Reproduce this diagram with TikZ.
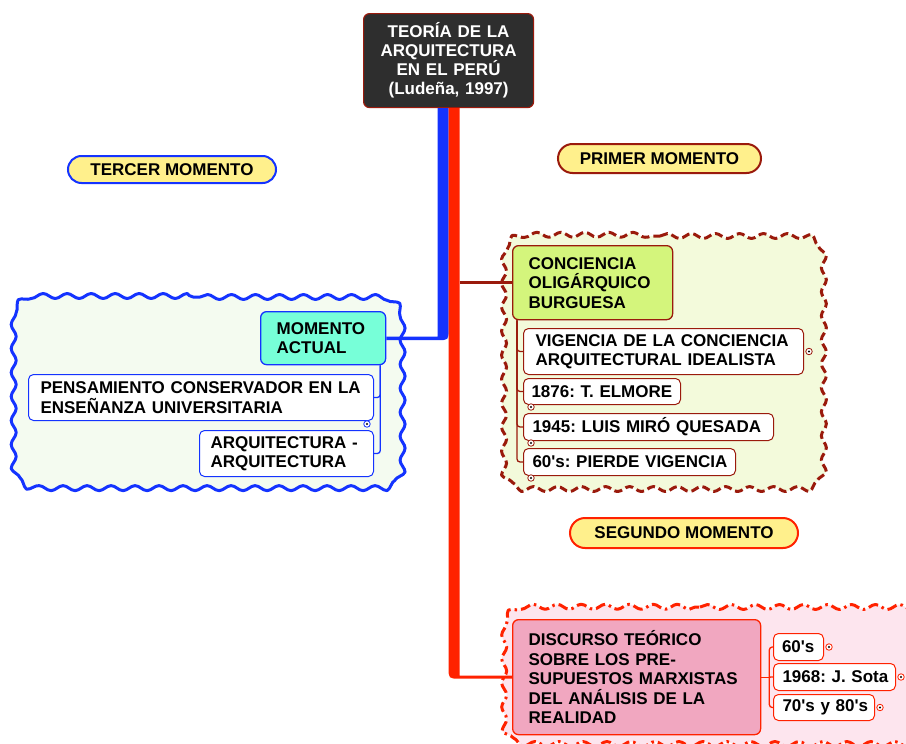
\documentclass[tikz,border=0pt]{standalone}
\usepackage{fontspec}
\setmainfont{Liberation Sans}
\usetikzlibrary{calc,decorations.pathmorphing}

\definecolor{bluec}{HTML}{1433FF}
\definecolor{redc}{HTML}{FF2200}
\definecolor{dkred}{HTML}{9A1A0C}
\definecolor{pillfill}{HTML}{FFF08C}
\definecolor{bluebg}{HTML}{F4FBF0}
\definecolor{limebg}{HTML}{F3FADB}
\definecolor{pinkbg}{HTML}{FDE5EE}
\definecolor{aqua}{HTML}{77FFD8}
\definecolor{lime}{HTML}{D4F57C}
\definecolor{rose}{HTML}{F1A7C0}
\definecolor{titlebg}{HTML}{2E2E2E}

\frenchspacing
\newcommand{\ap}{\textquotesingle}

\tikzset{
  lbl/.style={font=\bfseries\fontsize{17}{19.5}\selectfont},
  topic/.style={lbl, rectangle, rounded corners=6, line width=1.3, anchor=north west, align=left, inner ysep=0},
  sub/.style={lbl, rectangle, rounded corners=5, line width=1, fill=white, anchor=north west, align=left, inner ysep=0},
  pill/.style={lbl, rectangle, line width=2, fill=pillfill, anchor=north west, inner sep=0},
  dotmark/.style={circle, draw, fill=white, line width=0.8, minimum size=6.5, inner sep=0,
    path picture={\fill[black] (path picture bounding box.center) circle (1.2);}},
  conn/.style={line width=1.3, rounded corners=3},
  cloud/.style={line width=3, line join=round, decorate, decoration={snake, segment length=24, amplitude=2.5}},
}

\begin{document}
\begin{tikzpicture}[x=1pt, y=-1pt]
\useasboundingbox (0,0) rectangle (906,744);

% grouping clouds behind the topics (rounded outlines made wavy)
\begin{scope}
  \clip (0,0) rectangle (906,744);
  \draw[cloud, draw=bluec, fill=bluebg]
    (200,297) -- (374,297) .. controls (386,297) and (396,307) .. (396,319) -- (396,467)
    .. controls (396,479) and (386,489) .. (374,489) -- (28,489) .. controls (16,489) and (6,479) .. (6,467)
    -- (6,319) .. controls (6,307) and (16,297) .. (28,297) -- cycle;
  \draw[cloud, draw=dkred, fill=limebg, dash pattern=on 8 off 4]
    (660,236) -- (798,236) .. controls (809,236) and (818,245) .. (818,256) -- (818,470)
    .. controls (818,481) and (809,490) .. (798,490) -- (517,490) .. controls (506,490) and (497,481) .. (497,470)
    -- (497,256) .. controls (497,245) and (506,236) .. (517,236) -- cycle;
  \draw[cloud, draw=redc, fill=pinkbg, dash pattern=on 10 off 4 on 2.5 off 4]
    (700,607) -- (925,607) .. controls (936,607) and (945,616) .. (945,627) -- (945,724)
    .. controls (945,735) and (936,744) .. (925,744) -- (517,744) .. controls (506,744) and (497,735) .. (497,724)
    -- (497,627) .. controls (497,616) and (506,607) .. (517,607) -- cycle;
\end{scope}

% central topic
\node[lbl, rectangle, rounded corners=6, fill=titlebg, draw=dkred, line width=1.2, text=white,
  font=\bfseries\fontsize{17}{19}\selectfont, align=center, text width=160pt, inner xsep=5,
  inner ysep=0, minimum height=94, anchor=north west] (title) at (363,13)
  {TEORÍA DE LA\\ARQUITECTURA\\EN EL PERÚ\\(Ludeña, 1997)};

% section labels
\node[pill, draw=bluec, rounded corners=13.5, minimum width=208, minimum height=27] (ter) at (67,155) {TERCER MOMENTO};
\node[pill, draw=dkred, rounded corners=14.5, minimum width=203, minimum height=29] (pri) at (557,143) {PRIMER MOMENTO};
\node[pill, draw=redc, rounded corners=15, minimum width=228, minimum height=30] (seg) at (569,517) {SEGUNDO MOMENTO};

% tercer momento
\node[topic, draw=bluec, fill=aqua, text width=93pt, inner xsep=16, minimum height=53] (mom) at (260,311)
  {MOMENTO\\ACTUAL};
\node[sub, draw=bluec, text width=321pt, inner xsep=12, minimum height=46] (pens) at (28,374)
  {\mbox{PENSAMIENTO CONSERVADOR EN LA}\\\mbox{ENSEÑANZA UNIVERSITARIA}};
\node[sub, draw=bluec, text width=152pt, inner xsep=11, minimum height=46] (arq) at (199,430)
  {\mbox{ARQUITECTURA -}\\\mbox{ARQUITECTURA}};

% primer momento
\node[topic, draw=dkred, fill=lime, text width=128pt, inner xsep=16, minimum height=74] (con) at (512,245)
  {CONCIENCIA\\OLIGÁRQUICO\\BURGUESA};
\node[sub, draw=dkred, text width=256pt, inner xsep=12, minimum height=46] (vig) at (523,328)
  {\mbox{VIGENCIA DE LA CONCIENCIA}\\\mbox{ARQUITECTURAL IDEALISTA}};
\node[sub, draw=dkred, text width=141pt, inner xsep=8, minimum height=26] (y1876) at (523,378)
  {\mbox{1876: T. ELMORE}};
\node[sub, draw=dkred, text width=232pt, inner xsep=9, minimum height=27] (y1945) at (523,413)
  {\mbox{1945: LUIS MIRÓ QUESADA}};
\node[sub, draw=dkred, text width=194pt, inner xsep=9, minimum height=27] (p60) at (523,448)
  {\mbox{60\ap s: PIERDE VIGENCIA}};

% segundo momento
\node[topic, draw=redc, fill=rose, text width=216pt, inner xsep=16, minimum height=115] (dis) at (512,619)
  {DISCURSO TEÓRICO\\SOBRE LOS PRE-\\SUPUESTOS MARXISTAS\\DEL ANÁLISIS DE LA\\REALIDAD};
\node[sub, draw=redc, text width=33pt, inner xsep=8.5, minimum height=27] (s60) at (773,633)
  {\mbox{60\ap s}};
\node[sub, draw=redc, text width=104pt, inner xsep=9, minimum height=27] (s68) at (773,663)
  {\mbox{1968: J. Sota}};
\node[sub, draw=redc, text width=83pt, inner xsep=9, minimum height=26] (s70) at (773,694)
  {\mbox{70\ap s y 80\ap s}};

% main branches out of the central topic
\coordinate (bc) at (title.south |- mom.east);
\fill[bluec] ($(title.south)+(-11,0)$) -- (title.south) -- ($(bc)+(0,-9)$)
  .. controls ($(bc)+(0,2)$) .. ($(bc)+(-11,2)$) -- ($(mom.east)+(0,2)$)
  -- ($(mom.east)+(0,-1.5)$) -- ($(bc)+(-11,-1.5)$) -- cycle;
\coordinate (rc) at (title.south |- dis.west);
\fill[redc] (title.south) -- ($(title.south)+(11,0)$) -- ($(rc)+(11,-1.5)$)
  -- ($(dis.west)+(0,-1.5)$) -- ($(dis.west)+(0,1.5)$) -- ($(rc)+(11,1.5)$)
  .. controls ($(rc)+(0,1.5)$) .. ($(rc)+(0,-9.5)$) -- cycle;
\draw[dkred, line width=3] ($(title.south |- con.west)+(11,0)$) -- (con.west);

% sub-branches
\coordinate (bj) at ($(mom.south east)+(-6,0)$);
\draw[conn, bluec] (bj) |- (pens.east);
\draw[conn, bluec] (bj) |- (arq.east);
\coordinate (dj) at ($(con.south west)+(5,0)$);
\draw[conn, dkred] (dj) |- (vig.west);
\draw[conn, dkred] (dj) |- (y1876.west);
\draw[conn, dkred] (dj) |- (y1945.west);
\draw[conn, dkred] (dj) |- (p60.west);
\coordinate (sj) at ($(dis.east)+(8,0)$);
\draw[conn, redc] (dis.east) -- (sj);
\draw[conn, redc] (sj) |- (s60.west);
\draw[conn, redc] (sj) -- (s68.west);
\draw[conn, redc] (sj) |- (s70.west);

% note markers
\node[dotmark, draw=bluec] (mk1) at ($(pens.south east)+(-7,3)$) {};
\node[dotmark, draw=dkred] (mk2) at ($(vig.east)+(5,0)$) {};
\node[dotmark, draw=dkred] (mk3) at ($(y1876.south west)+(8,2)$) {};
\node[dotmark, draw=dkred] (mk4) at ($(y1945.south west)+(8,2)$) {};
\node[dotmark, draw=dkred] (mk5) at ($(p60.south west)+(8,2)$) {};
\node[dotmark, draw=redc] (mk6) at ($(s60.east)+(5,0)$) {};
\node[dotmark, draw=redc] (mk7) at ($(s68.east)+(5,0)$) {};
\node[dotmark, draw=redc] (mk8) at ($(s70.east)+(5,0)$) {};
\end{tikzpicture}
\end{document}
